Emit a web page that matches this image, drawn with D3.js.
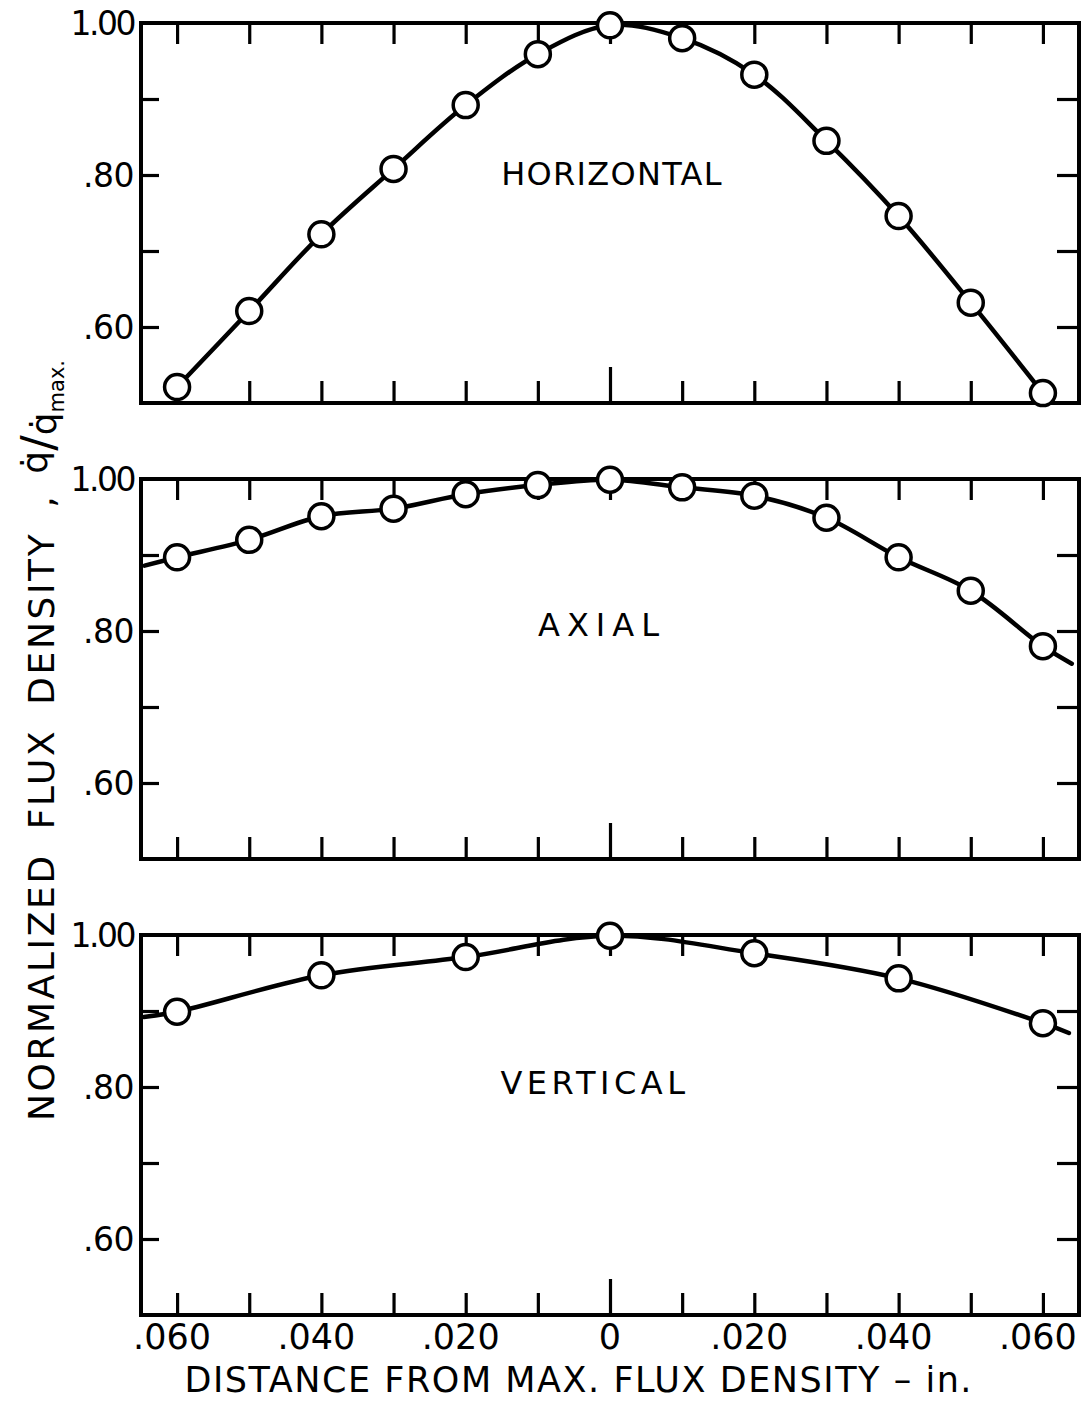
<!DOCTYPE html>
<html>
<head>
<meta charset="utf-8">
<script src="https://cdn.jsdelivr.net/npm/d3@7"></script>
<style>
  html, body { margin: 0; padding: 0; background: #fff; }
  svg { display: block; }
  text { font-family: "DejaVu Sans", sans-serif; fill: #000; }
</style>
</head>
<body>
<svg id="chart" width="1081" height="1401"></svg>
<script>
// ---- data ----
const xTickValues = [-0.06, -0.05, -0.04, -0.03, -0.02, -0.01, 0, 0.01, 0.02, 0.03, 0.04, 0.05, 0.06];
const xLabelValues = [-0.06, -0.04, -0.02, 0, 0.02, 0.04, 0.06];
const xLabelTexts = [".060", ".040", ".020", "0", ".020", ".040", ".060"];
const yTickValues = [0.9, 0.8, 0.7, 0.6];
const yLabelValues = [1.0, 0.8, 0.6];
const yLabelTexts = ["1.00", ".80", ".60"];

const panelNames = ["HORIZONTAL", "AXIAL", "VERTICAL"];

const horizontalX = [-0.06, -0.05, -0.04, -0.03, -0.02, -0.01, 0, 0.01, 0.02, 0.03, 0.04, 0.05, 0.06];
const horizontalY = [0.521, 0.621, 0.722, 0.808, 0.892, 0.959, 0.997, 0.980, 0.932, 0.845, 0.746, 0.632, 0.513];

const axialX = [-0.06, -0.05, -0.04, -0.03, -0.02, -0.01, 0, 0.01, 0.02, 0.03, 0.04, 0.05, 0.06];
const axialY = [0.897, 0.920, 0.951, 0.961, 0.980, 0.992, 0.999, 0.989, 0.978, 0.949, 0.897, 0.853, 0.780];
const axialCurveEndX = [-0.0645, 0.0640];
const axialCurveEndY = [0.886, 0.757];

const verticalX = [-0.06, -0.04, -0.02, 0, 0.02, 0.04, 0.06];
const verticalY = [0.899, 0.947, 0.971, 0.999, 0.976, 0.943, 0.884];
const verticalCurveEndX = [-0.0646, 0.0636];
const verticalCurveEndY = [0.892, 0.871];

// ---- layout ----
const svg = d3.select("#chart");
const xDomain = [-0.065, 0.065];
const yDomain = [0.5, 1.0];
const left = 141, right = 1079;
const panelTops = [23, 479, 935];
const panelH = 380;

const x = d3.scaleLinear().domain(xDomain).range([left, right]);

const panels = [
  { name: panelNames[0], px: horizontalX, py: horizontalY, ends: null, label: { dx: 2, y: 185, ls: 1.3 } },
  { name: panelNames[1], px: axialX, py: axialY, ends: [axialCurveEndX, axialCurveEndY], label: { dx: -8, y: 636, ls: 7 } },
  { name: panelNames[2], px: verticalX, py: verticalY, ends: [verticalCurveEndX, verticalCurveEndY], label: { dx: -15, y: 1094, ls: 4.5 } }
];

panels.forEach((p, i) => {
  const top = panelTops[i];
  const y = d3.scaleLinear().domain(yDomain).range([top + panelH, top]);
  const g = svg.append("g");

  const styleAxis = sel => {
    sel.select(".domain").remove();
    sel.selectAll(".tick line").attr("stroke", "#000").attr("stroke-width", 3.2);
    sel.selectAll(".tick text").remove();
  };
  g.append("g").attr("transform", `translate(0,${top})`)
    .call(d3.axisTop(x).tickValues(xTickValues).tickSize(-21).tickFormat(""))
    .call(styleAxis);
  const bottomAx = g.append("g").attr("transform", `translate(0,${top + panelH})`)
    .call(d3.axisBottom(x).tickValues(xTickValues).tickSize(-22).tickFormat(""))
    .call(styleAxis);
  bottomAx.selectAll(".tick line").filter(d => d === 0).attr("y2", -36);
  g.append("g").attr("transform", `translate(${left},0)`)
    .call(d3.axisLeft(y).tickValues(yTickValues).tickSize(-18).tickFormat(""))
    .call(styleAxis);
  g.append("g").attr("transform", `translate(${right},0)`)
    .call(d3.axisRight(y).tickValues(yTickValues).tickSize(-22).tickFormat(""))
    .call(styleAxis);

  g.append("rect")
    .attr("x", left).attr("y", top)
    .attr("width", right - left).attr("height", panelH)
    .attr("fill", "none").attr("stroke", "#000").attr("stroke-width", 4);

  g.selectAll("text.ylab").data(yLabelValues).join("text")
    .attr("class", "ylab")
    .attr("x", left - 7)
    .attr("y", d => y(d))
    .attr("dy", "0.36em")
    .attr("text-anchor", "end")
    .attr("font-size", 33)
    .attr("letter-spacing", (d, k) => k === 0 ? -2.5 : -0.5)
    .text((d, k) => yLabelTexts[k]);

  let pts = p.px.map((v, k) => [v, p.py[k]]);
  if (p.ends) {
    pts = [[p.ends[0][0], p.ends[1][0]], ...pts, [p.ends[0][1], p.ends[1][1]]];
  }
  const line = d3.line().x(d => x(d[0])).y(d => y(d[1])).curve(d3.curveCatmullRom.alpha(0.5));
  g.append("path").datum(pts)
    .attr("d", line)
    .attr("fill", "none").attr("stroke", "#000").attr("stroke-width", 4.5)
    .attr("stroke-linejoin", "round").attr("stroke-linecap", "round");

  g.selectAll("circle").data(p.px.map((v, k) => [v, p.py[k]])).join("circle")
    .attr("cx", d => x(d[0])).attr("cy", d => y(d[1]))
    .attr("r", 12.5)
    .attr("fill", "#fff").attr("stroke", "#000").attr("stroke-width", 3.5);

  g.append("text")
    .attr("x", x(0) + p.label.dx)
    .attr("y", p.label.y)
    .attr("text-anchor", "middle")
    .attr("font-size", 32)
    .attr("letter-spacing", p.label.ls)
    .text(p.name);

  if (i === 2) {
    g.selectAll("text.xlab").data(xLabelValues).join("text")
      .attr("class", "xlab")
      .attr("x", d => x(d) - (d === 0 ? 0 : 5))
      .attr("y", top + panelH + 34)
      .attr("text-anchor", "middle")
      .attr("font-size", 35)
      .text((d, k) => xLabelTexts[k]);
  }
});

// x axis title
svg.append("text")
  .attr("x", 578).attr("y", 1392)
  .attr("text-anchor", "middle")
  .attr("font-size", 35)
  .attr("textLength", 787)
  .attr("lengthAdjust", "spacing")
  .text("DISTANCE FROM MAX. FLUX DENSITY \u2013 in.");

// y axis title (rotated)
const yt = svg.append("text")
  .attr("transform", "translate(54,1121) rotate(-90)")
  .attr("x", 0).attr("y", 0)
  .attr("text-anchor", "start")
  .attr("font-size", 36);
yt.append("tspan").attr("letter-spacing", 2.6).attr("word-spacing", 10).text("NORMALIZED FLUX DENSITY ,");
yt.append("tspan").attr("dx", 20).attr("dy", -7).text("q\u0307");
yt.append("tspan").attr("dy", 7).attr("font-size", 46).text("/");
yt.append("tspan").attr("dy", 2).text("q\u0307");
yt.append("tspan").attr("dy", 8).attr("font-size", 21).text("max.");
</script>
</body>
</html>
